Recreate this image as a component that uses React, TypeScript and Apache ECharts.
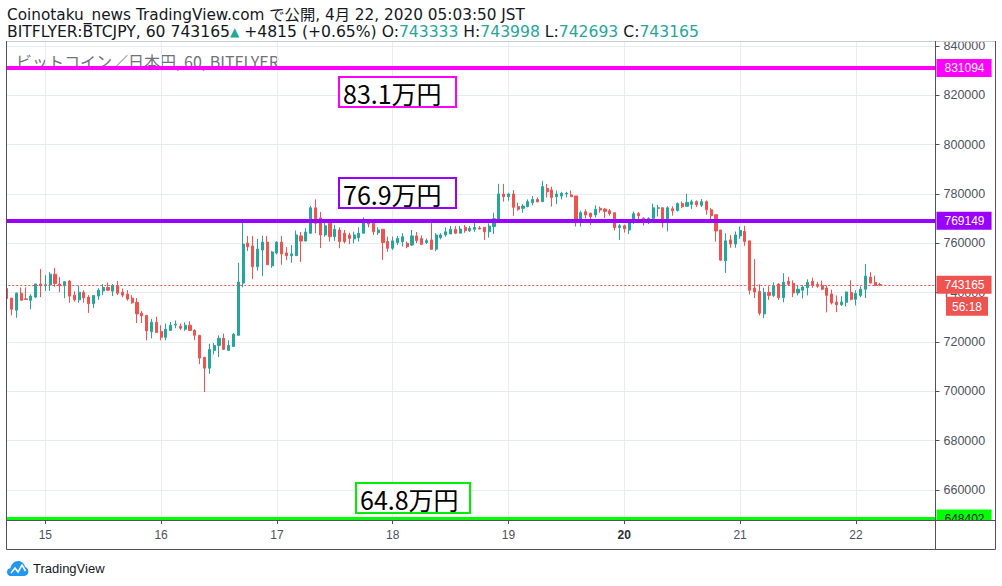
import React, { useEffect, useRef } from "react";
import * as echarts from "echarts";

// ---- time axis (hourly candles) ----
const FIRST_DAY = 14;
const FIRST_HOUR = 16;
const SLOT_COUNT = 193; // includes empty right margin slots
const BOLD_DAY = "20";

// ---- price axis ----
const Y_MIN = 647840;
const Y_MAX = 841820;
const Y_TICKS = [660000, 680000, 700000, 720000, 740000, 760000, 780000, 800000, 820000, 840000];

// ---- horizontal levels ----
const LEVEL_HIGH = 831094;
const LEVEL_MID = 769149;
const LEVEL_LOW = 648402;
const BOX_HIGH = "83.1万円";
const BOX_MID = "76.9万円";
const BOX_LOW = "64.8万円";
const COUNTDOWN = "56:18";

// ---- hourly OHLC, BTC/JPY bitFlyer ----
const OPEN = [
  741700, 737800, 732900, 739800, 737500, 736900, 738200, 743500, 742900, 743100, 747500, 743500, 742800, 744700, 739000, 737100,
  740100, 738200, 735500, 738600, 740700, 742100, 740600, 742900, 740200, 739400, 737800, 736100, 731700, 730800, 724200, 728000,
  724300, 721900, 724700, 726900, 726400, 725200, 726800, 724700, 722700, 713800, 709400, 716600, 718600, 721500, 716600, 718200,
  722700, 743900, 760100, 758900, 750500, 757300, 760500, 750900, 756100, 760500, 756100, 755000, 755000, 763000, 760900, 764100,
  774400, 770300, 763400, 768100, 762700, 765400, 764100, 763400, 761800, 762300, 764100, 768400, 768100, 764300, 765700, 760700,
  758000, 760300, 760700, 760000, 759300, 763000, 762000, 760300, 761400, 757600, 762300, 763400, 763800, 765700, 764100, 766500,
  765100, 765700, 766200, 766500, 764700, 766800, 768700, 780000, 778900, 780000, 774900, 774200, 774900, 776500, 777800, 776900,
  782300, 781600, 778900, 779200, 780000, 779600, 779200, 768400, 772800, 772200, 771500, 774200, 773900, 773200, 772400, 766400,
  767100, 765400, 768400, 772000, 770200, 769500, 770100, 774200, 774400, 768400, 774000, 773300, 776100, 775000, 775800, 776900,
  775400, 776900, 773600, 771600, 765400, 752900, 761400, 759700, 763000, 764800, 761000, 741900, 740500, 731400, 740100, 738900,
  743500, 738000, 744600, 743800, 739900, 741000, 742000, 744600, 743400, 743000, 741900, 739500, 736200, 735100, 736100, 740100,
  737300, 738900, 741400, 746300, 744200, 743333,
];
const CLOSE = [
  737600, 733300, 739800, 736900, 737200, 738600, 743500, 742800, 743200, 747500, 743700, 742800, 744400, 738600, 737100, 740200,
  737900, 735500, 738800, 741000, 742100, 741000, 742900, 739800, 739000, 737400, 735900, 731400, 730600, 724500, 728000, 723900,
  721900, 725200, 726800, 727200, 725600, 726800, 724700, 722700, 713500, 709400, 717000, 718600, 721500, 717000, 718600, 723100,
  744300, 759700, 758600, 750500, 757700, 760500, 751300, 756500, 760500, 755700, 755000, 755700, 763400, 760900, 764600, 774400,
  768100, 763400, 767100, 762700, 765700, 760700, 760700, 762000, 763400, 764100, 768400, 767800, 764700, 765400, 760300, 758000,
  761000, 762000, 762700, 758700, 763000, 761100, 759600, 761100, 757600, 763400, 763400, 764700, 765700, 764100, 765800, 765100,
  766100, 766400, 765800, 764700, 767000, 770000, 780000, 778900, 780000, 774600, 773800, 775100, 776900, 777800, 776900, 783000,
  780900, 778600, 780000, 780300, 780300, 778900, 768400, 772400, 771500, 770800, 773800, 773500, 772900, 772000, 766400, 767100,
  765900, 769000, 772000, 771200, 769000, 770100, 774400, 774400, 768400, 774400, 773200, 776100, 774800, 776600, 776900, 775600,
  776900, 773600, 771200, 765000, 753200, 761000, 759700, 763400, 765200, 760700, 741000, 740300, 731700, 740100, 738900, 742900,
  738000, 744200, 743400, 739900, 741400, 742300, 744200, 742900, 742600, 741400, 738900, 735800, 735100, 736200, 740300, 737300,
  739700, 741400, 746700, 743900, 742900, 743165,
];
const LOW = [
  737400, 730800, 729800, 736900, 737200, 733300, 737800, 738200, 740700, 740700, 742400, 740200, 737800, 735900, 736300, 735900,
  735900, 731800, 733800, 737100, 739000, 740600, 738600, 739000, 738200, 736700, 735500, 727700, 727700, 720700, 721500, 723900,
  720700, 720700, 724700, 725600, 724900, 724500, 724500, 720700, 711000, 699700, 707100, 715000, 713900, 717000, 716600, 718200,
  722700, 742200, 756900, 745500, 748900, 746700, 751300, 750100, 755500, 751300, 753200, 752100, 755000, 752500, 760900, 763800,
  764100, 758100, 762700, 760700, 761000, 758000, 760000, 759700, 760000, 760700, 764100, 766500, 763400, 763400, 753300, 756600,
  757300, 759300, 758700, 758000, 758900, 760000, 759300, 759700, 757300, 756800, 761600, 762700, 763800, 763700, 764100, 764300,
  764600, 764700, 765700, 761400, 762300, 763800, 768400, 776900, 777300, 771100, 773200, 772400, 774600, 775400, 776500, 776900,
  778600, 774900, 775900, 777800, 778600, 778900, 766800, 766800, 770100, 767400, 770500, 772400, 770200, 771200, 765200, 761400,
  764400, 763800, 767800, 769800, 767200, 767800, 770100, 770900, 766400, 764800, 771200, 772900, 774200, 775000, 773900, 774700,
  774700, 771600, 769300, 760700, 752800, 748000, 758200, 758200, 761800, 759000, 739300, 737800, 730800, 729700, 737100, 738200,
  737000, 736100, 742700, 738200, 738900, 737700, 738900, 742000, 742000, 741000, 732000, 735200, 732100, 734600, 734400, 736900,
  734800, 738200, 737800, 743700, 742600, 742693,
];
const HIGH = [
  743700, 737800, 740100, 742100, 742100, 739400, 743700, 749600, 747100, 748300, 750000, 746300, 744700, 745100, 740600, 742800,
  741000, 739000, 739000, 741800, 743500, 744100, 743500, 744700, 741700, 741000, 739000, 737800, 732500, 730800, 729400, 730200,
  726800, 727500, 728100, 728700, 727500, 728000, 728400, 725200, 722700, 713900, 719300, 719600, 722700, 723400, 720700, 723700,
  752100, 769100, 763000, 763000, 761800, 763000, 763000, 756900, 760800, 763000, 758500, 759300, 765200, 764600, 766200, 775200,
  777800, 772700, 769100, 769500, 767400, 766500, 765400, 764300, 764700, 766500, 770500, 769700, 769700, 766500, 765700, 762700,
  762700, 763000, 764100, 760700, 765400, 764600, 763200, 762000, 769700, 764100, 764100, 766500, 767000, 767000, 767000, 767400,
  767000, 768800, 767000, 766500, 768100, 772400, 784100, 784100, 780500, 781600, 776500, 775900, 777800, 779200, 778600, 785300,
  784100, 783000, 781400, 780900, 780900, 781400, 779200, 773200, 773800, 772400, 775400, 774900, 774300, 773900, 772400, 767800,
  767600, 769500, 772900, 772700, 770500, 770600, 776100, 775600, 774700, 775000, 775000, 776600, 777000, 780100, 777700, 777400,
  778000, 777400, 774300, 771600, 765400, 764100, 763400, 764800, 766800, 767100, 761000, 753600, 743400, 742000, 742600, 744200,
  743800, 747900, 746400, 745000, 742700, 743000, 745400, 746100, 744400, 744900, 742900, 741200, 738900, 738600, 740400, 745000,
  741000, 742600, 751600, 748300, 746900, 743998,
];

const LAST = OPEN.length - 1;
const LAST_OPEN = OPEN[LAST];
const LAST_CLOSE = CLOSE[LAST];
const LAST_LOW = LOW[LAST];
const LAST_HIGH = HIGH[LAST];
const CHANGE = "+4815 (+0.65%)";

const UP = "#26a69a";
const DOWN = "#ef5350";
const GRID_LINE = "#e6edf2";
const AXIS = "#50535e";
const TEXT = "#4c525e";
const NARROW = '"Liberation Sans Narrow", "Liberation Sans", Arial, sans-serif';
const HEAD = '"DejaVu Sans", "Noto Sans CJK JP", sans-serif';
const CJK = '"Noto Sans CJK JP", sans-serif';

const CATEGORIES = Array.from({ length: SLOT_COUNT }, (_, i) => {
  const t = FIRST_HOUR + i;
  const d = FIRST_DAY + Math.floor(t / 24);
  const h = t % 24;
  return `${d} ${String(h).padStart(2, "0")}:00`;
});
const isDayStart = (i: number) => CATEGORIES[i].endsWith(" 00:00");
const DAY_CATS = CATEGORIES.filter((_, i) => isDayStart(i));

echarts.graphic.registerShape(
  "tvlogo",
  echarts.graphic.extendPath(
    "M4 16 C1.5 16 0 14.2 0 12 C0 9.8 1.6 8.3 3.6 8.3 C4.3 4.2 7.6 1 11.6 1 C15.2 1 18.2 3.4 19 6.8 C21 7.3 22.5 9.3 22.5 11.6 C22.5 14.1 20.6 16 18.2 16 Z",
    {}
  )
);

export default function App() {
  const ref = useRef<HTMLDivElement>(null);
  useEffect(() => {
    if (!ref.current) return;
    const chart = echarts.init(ref.current, undefined, { renderer: "svg" });

    const candleData = OPEN.map((o, i) => [o, CLOSE[i], LOW[i], HIGH[i]]);

    const priceLabel = (v: number, color: string, textColor: string) => ({
      show: true,
      position: "end",
      distance: 1,
      formatter: String(v),
      backgroundColor: color,
      color: textColor,
      fontFamily: NARROW,
      fontSize: 12,
      lineHeight: 12,
      padding: [3, 7, 3, 8],
    });

    const levelItem = (v: number, color: string, textColor: string) => ({
      yAxis: v,
      lineStyle: { color, width: 4, type: "solid" },
      label: priceLabel(v, color, textColor),
    });

    const boxes = [
      { text: BOX_HIGH, color: "#ff00ff", x: 338, y: 76, w: 119 },
      { text: BOX_MID, color: "#9900ff", x: 338, y: 177, w: 119 },
      { text: BOX_LOW, color: "#00ee00", x: 355, y: 482, w: 116 },
    ];

    const frameLine = (x1: number, y1: number, x2: number, y2: number, color = AXIS) => ({
      type: "line",
      z: 100,
      silent: true,
      shape: { x1, y1, x2, y2 },
      style: { stroke: color, lineWidth: 1 },
    });

    const graphics: any[] = [
      // header
      {
        type: "text",
        x: 7,
        y: 15,
        style: {
          text: "Coinotaku_news TradingView.com で公開, 4月 22, 2020 05:03:50 JST",
          font: `15.3px ${HEAD}`,
          fill: "#131722",
          verticalAlign: "middle",
        },
      },
      {
        type: "text",
        x: 7,
        y: 31.5,
        style: {
          text: `{k|BITFLYER:BTCJPY, 60 ${LAST_CLOSE}}{t|▲}{k| ${CHANGE} O:}{v|${LAST_OPEN}}{k| H:}{v|${LAST_HIGH}}{k| L:}{v|${LAST_LOW}}{k| C:}{v|${LAST_CLOSE}}`,
          verticalAlign: "middle",
          rich: {
            k: { fill: "#131722", font: `15.6px ${HEAD}` },
            v: { fill: UP, font: `15.6px ${HEAD}` },
            t: { fill: UP, font: `12px ${HEAD}` },
          },
        },
      },
      // symbol title
      {
        type: "text",
        x: 16,
        y: 61,
        style: {
          text: "ビットコイン／日本円, 60, BITFLYER",
          font: `16px ${CJK}`,
          fill: "#6f727c",
          verticalAlign: "middle",
        },
      },
      // left cover strip and price-axis cover at bottom
      { type: "rect", z: 90, silent: true, shape: { x: 0, y: 40, width: 6.2, height: 510 }, style: { fill: "#fff" } },
      { type: "rect", z: 90, silent: true, shape: { x: 936, y: 520.5, width: 58.5, height: 28 }, style: { fill: "#fff" } },
      // frame
      frameLine(6.5, 41.5, 995.5, 41.5, "#c9ccd2"),
      frameLine(6.5, 41, 6.5, 549.5),
      frameLine(6.5, 549.5, 995.5, 549.5),
      frameLine(995.5, 41, 995.5, 549.5),
      frameLine(6.5, 520.5, 995.5, 520.5),
      frameLine(935.5, 41, 935.5, 549.5),
      // logo
      { type: "tvlogo", x: 7, y: 560, scaleX: 0.95, scaleY: 1, style: { fill: "#2196f3" } },
      {
        type: "polyline",
        shape: { points: [[4, 13], [8, 8], [11, 12], [15, 5], [18.5, 11]] },
        x: 7,
        y: 560,
        style: { stroke: "#fff", lineWidth: 1.6, fill: null },
      },
      {
        type: "text",
        x: 33,
        y: 568.5,
        style: { text: "TradingView", font: `13px ${NARROW}`, fill: "#131722", verticalAlign: "middle" },
      },
    ];

    boxes.forEach((b) => {
      graphics.push({
        type: "rect",
        z: 50,
        shape: { x: b.x + 1, y: b.y + 1, width: b.w - 2, height: 30 },
        style: { fill: "#fff", stroke: b.color, lineWidth: 2 },
      });
      graphics.push({
        type: "text",
        z: 51,
        x: b.x + 5,
        y: b.y + 16.5,
        style: { text: b.text, font: `25px ${CJK}`, fill: "#000", verticalAlign: "middle" },
      });
    });

    const option: any = {
      animation: false,
      backgroundColor: "#fff",
      grid: { left: 4.29, right: 66.5, top: 41.5, bottom: 66, containLabel: false, outerBoundsMode: "none" },
      xAxis: {
        type: "category",
        data: CATEGORIES,
        boundaryGap: true,
        axisLine: { show: false },
        axisTick: {
          show: true,
          alignWithLabel: true,
          interval: (i: number) => isDayStart(i),
          length: 4,
          lineStyle: { color: AXIS },
        },
        axisLabel: {
          interval: (i: number) => isDayStart(i),
          formatter: (v: string) => {
            const d = v.split(" ")[0];
            return d === BOLD_DAY ? `{b|${d}}` : d;
          },
          color: TEXT,
          fontSize: 12,
          fontFamily: NARROW,
          margin: 9,
          rich: { b: { fontWeight: "bold", color: "#2a2e39", fontSize: 12, fontFamily: NARROW } },
        },
        splitLine: { show: false },
      },
      yAxis: {
        type: "value",
        position: "right",
        min: Y_MIN,
        max: Y_MAX,
        scale: true,
        axisLine: { show: false },
        axisTick: { show: true, length: 4, customValues: Y_TICKS, lineStyle: { color: AXIS } },
        axisLabel: {
          customValues: Y_TICKS,
          formatter: (v: number) => String(v),
          color: TEXT,
          fontSize: 12.5,
          fontFamily: NARROW,
          margin: 8,
        },
        splitLine: { show: false },
      },
      series: [
        {
          type: "line",
          data: CLOSE,
          z: 1,
          silent: true,
          showSymbol: false,
          symbol: "none",
          lineStyle: { opacity: 0 },
          markLine: {
            z: 1,
            silent: true,
            symbol: ["none", "none"],
            label: { show: false },
            lineStyle: { color: GRID_LINE, width: 1, type: "solid" },
            data: [
              ...Y_TICKS.map((v) => ({ yAxis: v })),
              ...DAY_CATS.map((c) => ({ xAxis: c })),
            ],
          },
        },
        {
          type: "candlestick",
          z: 2,
          data: candleData,
          barWidth: 2.6,
          itemStyle: {
            color: UP,
            color0: DOWN,
            borderColor: UP,
            borderColor0: DOWN,
            borderWidth: 1,
          },
          markLine: {
            silent: true,
            symbol: ["none", "none"],
            data: [
              {
                yAxis: LAST_CLOSE,
                lineStyle: { color: DOWN, width: 1, type: [2, 2] },
                label: priceLabel(LAST_CLOSE, DOWN, "#fff"),
              },
              levelItem(LEVEL_HIGH, "#ff00ff", "#fff"),
              levelItem(LEVEL_MID, "#9900ff", "#fff"),
              levelItem(LEVEL_LOW, "#00ff00", "#131722"),
            ],
          },
        },
      ],
      graphic: { elements: graphics },
    };

    chart.setOption(option);

    const py = chart.convertToPixel({ yAxisIndex: 0 }, LAST_CLOSE) as number;
    chart.setOption({
      graphic: {
        elements: [
          ...graphics,
          {
            type: "text",
            z: 60,
            x: 988,
            y: py + 12,
            style: {
              text: COUNTDOWN,
              font: `12px ${NARROW}`,
              fill: "#fff",
              backgroundColor: DOWN,
              padding: [4, 6, 3, 6],
              align: "right",
              verticalAlign: "top",
            },
          },
        ],
      },
    });

    return () => chart.dispose();
  }, []);

  return (
    <div
      ref={ref}
      style={{ position: "fixed", left: 0, top: 0, width: 1002, height: 586, background: "#fff" }}
    />
  );
}
